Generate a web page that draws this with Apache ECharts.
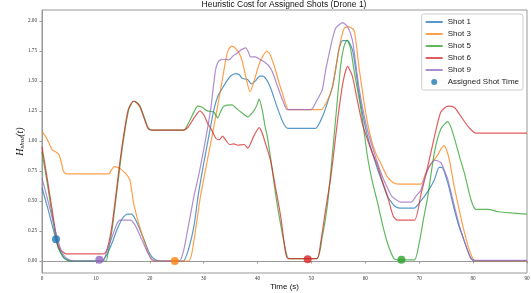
<!DOCTYPE html>
<html>
<head>
<meta charset="utf-8">
<script src="https://cdn.jsdelivr.net/npm/echarts@6.0.0/dist/echarts.min.js"></script>
<style>
  html, body { margin: 0; padding: 0; background: #fff; }
  #chart { width: 531px; height: 293px; }
</style>
</head>
<body>
<div id="chart"></div>
<script>
// curves, [time (s), cost]
const shot1 = [[0,0.61],[1,0.45],[2,0.28],[2.6,0.18],[3,0.12],[4,0.03],[5,0.005],[6,0],[11,0],[12,0.05],[13,0.15],[14,0.27],[15,0.36],[15.8,0.39],[16.6,0.39],[17.3,0.35],[18,0.28],[19,0.17],[20,0.06],[21,0.01],[22,0],[26.2,0],[27.2,0.1],[28.2,0.29],[29,0.55],[30,0.81],[31,1.05],[31.9,1.26],[32.7,1.38],[33.5,1.44],[34.3,1.5],[35,1.54],[35.9,1.56],[36.6,1.55],[37.2,1.52],[38.2,1.51],[38.8,1.475],[39.6,1.5],[40.4,1.54],[41,1.54],[41.8,1.5],[42.6,1.42],[43.4,1.31],[44.3,1.2],[45,1.13],[45.6,1.105],[50.8,1.105],[51.5,1.15],[52.3,1.23],[53.2,1.35],[53.9,1.45],[54.5,1.6],[55.1,1.76],[55.8,1.835],[56.7,1.835],[57.6,1.76],[58.2,1.6],[58.8,1.4],[59.6,1.2],[60.4,1.04],[61.3,0.9],[62.3,0.76],[63.2,0.65],[64.1,0.54],[65,0.48],[65.7,0.45],[66.5,0.44],[69.1,0.44],[70.3,0.5],[71.6,0.58],[72.8,0.675],[73.7,0.78],[74.2,0.78],[75.3,0.65],[76.5,0.43],[77.3,0.3],[78.1,0.2],[79.3,0.05],[80.2,0],[90,0]]
const shot3 = [[0,1.08],[0.9,1.02],[1.9,0.925],[2.5,0.91],[3.1,0.89],[3.6,0.82],[4,0.745],[4.6,0.725],[12.4,0.725],[12.9,0.76],[13.4,0.785],[14,0.78],[14.6,0.765],[15.5,0.73],[16.3,0.675],[17,0.48],[17.6,0.37],[18.3,0.26],[19.5,0.09],[20.6,0],[27.2,0],[28.2,0.175],[29.4,0.535],[30.3,0.75],[31.3,0.98],[32.1,1.17],[32.8,1.34],[33.5,1.52],[34.1,1.675],[34.6,1.76],[35.2,1.79],[35.7,1.78],[36.3,1.75],[36.9,1.7],[37.4,1.62],[37.8,1.535],[38.6,1.41],[39.1,1.46],[39.6,1.535],[40.3,1.64],[40.9,1.7],[41.7,1.745],[42.2,1.73],[42.7,1.675],[43.4,1.58],[44,1.48],[44.6,1.4],[45.2,1.31],[45.8,1.26],[51.8,1.26],[53,1.34],[53.9,1.45],[54.5,1.6],[55.1,1.76],[55.6,1.87],[56.1,1.94],[57,1.95],[57.9,1.92],[58.4,1.78],[58.8,1.62],[59.8,1.31],[60.5,1.13],[61.3,0.98],[62.1,0.88],[62.9,0.81],[64.1,0.7],[65.3,0.65],[66.5,0.64],[70.3,0.64],[71.1,0.72],[71.9,0.79],[72.7,0.84],[73.4,0.88],[74,0.93],[74.6,0.96],[75.1,0.92],[75.6,0.84],[76.5,0.62],[77.3,0.45],[78.1,0.29],[79.3,0.09],[80.4,0],[90,0]]
const shot5 = [[0,0.91],[1,0.64],[2,0.35],[2.5,0.21],[3,0.11],[4,0.03],[5,0],[11.8,0],[12.3,0.08],[13.1,0.29],[14.6,0.84],[15.4,1.09],[16.1,1.26],[17,1.33],[17.6,1.32],[18.2,1.29],[19.1,1.18],[19.7,1.11],[20.4,1.09],[26.3,1.09],[27.2,1.15],[28.3,1.25],[28.9,1.29],[29.7,1.28],[30.7,1.25],[31.9,1.24],[32.6,1.19],[33.2,1.25],[33.8,1.29],[35.3,1.3],[36.1,1.27],[36.9,1.24],[38.2,1.2],[39.3,1.25],[39.9,1.3],[40.3,1.35],[40.9,1.25],[41.4,1.12],[41.8,1.04],[42.6,0.8],[43.4,0.54],[44.3,0.3],[45.2,0.09],[45.8,0.02],[51,0.02],[52,0.2],[53,0.48],[54.2,1.04],[55.4,1.62],[56,1.78],[56.6,1.84],[57.2,1.78],[57.9,1.59],[59.2,1.26],[60.4,0.87],[61.3,0.66],[62.3,0.48],[63.2,0.3],[64.1,0.15],[65.3,0.02],[66,0.01],[69.1,0.01],[70,0.15],[70.8,0.35],[71.6,0.54],[72.8,0.9],[74,1.1],[75.3,1.16],[76,1.1],[76.8,0.98],[77.6,0.85],[78.4,0.73],[79.6,0.51],[80.5,0.43],[82.7,0.43],[84.8,0.41],[87.2,0.4],[90,0.39]]
const shot6 = [[0,0.95],[1,0.68],[2,0.39],[2.8,0.17],[3.3,0.1],[4,0.07],[4.5,0.06],[11.5,0.06],[12.1,0.1],[13,0.3],[14.5,0.84],[15.3,1.09],[16,1.26],[16.9,1.33],[17.5,1.32],[18.2,1.28],[19.1,1.17],[19.7,1.1],[20.4,1.09],[26.3,1.09],[27.2,1.12],[28.2,1.19],[29.3,1.25],[30,1.22],[30.7,1.15],[31.5,1.09],[32.3,1.02],[32.9,1.01],[33.5,1.04],[34.2,1],[34.8,0.97],[35.6,0.975],[36.3,0.965],[37.5,0.97],[38.2,0.94],[39.3,1.04],[40.3,1.11],[40.9,1.06],[41.6,0.96],[42.4,0.84],[43.3,0.62],[44.3,0.37],[45.2,0.07],[45.7,0.02],[51,0.02],[51.7,0.15],[52.6,0.42],[53.6,0.7],[54.4,1],[55.1,1.26],[55.9,1.5],[56.7,1.62],[57.6,1.54],[58.5,1.34],[59.4,1.15],[60.4,1.01],[61.3,0.9],[62.3,0.79],[63.2,0.66],[64.1,0.54],[65.2,0.37],[66,0.34],[69.1,0.34],[70.3,0.55],[71.6,0.79],[72.8,1.03],[74,1.24],[75.3,1.29],[76.5,1.28],[77.2,1.24],[77.8,1.2],[78.9,1.13],[79.9,1.08],[80.5,1.065],[90,1.065]]
const shot9 = [[0,0.69],[1,0.52],[2,0.34],[3,0.16],[4,0.05],[5,0.01],[6,0],[11.3,0],[12,0.08],[13,0.2],[14,0.32],[14.5,0.34],[16.5,0.34],[17.5,0.28],[18.5,0.18],[19.5,0.08],[20.5,0.01],[21.5,0],[25.5,0],[26.3,0.09],[27.2,0.3],[28.2,0.54],[29.1,0.72],[30,0.925],[30.7,1.1],[31.3,1.26],[31.8,1.45],[32.2,1.59],[32.6,1.65],[33.1,1.675],[34,1.68],[34.7,1.675],[35.5,1.71],[36.2,1.73],[37,1.76],[37.8,1.775],[38.3,1.74],[38.7,1.7],[39.6,1.7],[40.4,1.68],[41.2,1.66],[42,1.63],[42.7,1.58],[43.5,1.48],[44.3,1.38],[45,1.3],[45.5,1.26],[49.9,1.26],[50.9,1.33],[52,1.425],[52.6,1.58],[53.3,1.73],[53.9,1.85],[54.5,1.94],[55.2,1.97],[55.8,1.985],[56.7,1.95],[57.6,1.84],[58.2,1.65],[58.8,1.45],[59.6,1.25],[60.4,1.09],[61.3,0.95],[62.3,0.81],[63.2,0.7],[64.1,0.61],[64.9,0.54],[65.7,0.51],[66.5,0.49],[68.5,0.49],[69.4,0.54],[70.3,0.59],[71.1,0.7],[71.9,0.79],[72.9,0.84],[74,0.82],[74.6,0.76],[75.3,0.68],[76.5,0.46],[77.3,0.32],[78.1,0.2],[79.6,0.02],[80.5,0.005],[90,0.005]]

// assigned shot times (dots)
const assignedShots = ['Shot 1', 'Shot 9', 'Shot 3', 'Shot 6', 'Shot 5']
const assignedTimes = [2.6, 10.65, 24.65, 49.3, 66.7]
const assignedValues = [0.18, 0.01, 0.0, 0.015, 0.01]

const yTicks = [0, 0.25, 0.5, 0.75, 1.0, 1.25, 1.5, 1.75, 2.0]

const colors = {
  'Shot 1': '#1f77b4',
  'Shot 3': '#ff7f0e',
  'Shot 5': '#2ca02c',
  'Shot 6': '#d62728',
  'Shot 9': '#9467bd'
}

const chart = echarts.init(document.getElementById('chart'))

const lines = [['Shot 1', shot1], ['Shot 3', shot3], ['Shot 5', shot5], ['Shot 6', shot6], ['Shot 9', shot9]]
const series = lines.map(([name, data]) => {
  return {
    name: name,
    type: 'line',
    data: data,
    symbol: 'none',
    smooth: 0.2,
    color: colors[name],
    lineStyle: { width: 1.2, opacity: 0.75 }
  }
})
series.push({
  name: 'Assigned Shot Time',
  type: 'scatter',
  symbolSize: 8,
  z: 5,
  color: '#1f77b4',
  data: assignedTimes.map((t, i) => {
    return { value: [t, assignedValues[i]], itemStyle: { color: colors[assignedShots[i]] } }
  })
})

// legend: plain lines for the shots (hide the symbol ECharts adds), dot for the times
const legendData = lines.map(([name]) => {
  return { name: name, itemStyle: { opacity: 0 } }
})
legendData.push({ name: 'Assigned Shot Time', icon: 'circle' })

const axisGray = '#999'
const option = {
  animation: false,
  title: {
    text: 'Heuristic Cost for Assigned Shots (Drone 1)',
    left: 284,
    textAlign: 'center',
    top: 0,
    padding: 0,
    textStyle: { fontFamily: 'Liberation Sans', fontSize: 8.5, fontWeight: 'normal', color: '#111' }
  },
  grid: {
    left: 42,
    right: 4,
    top: 10,
    bottom: 20,
    outerBoundsMode: 'none',
    show: true,
    borderColor: axisGray,
    borderWidth: 1
  },
  legend: {
    right: 8,
    top: 14,
    orient: 'vertical',
    itemWidth: 17,
    itemHeight: 6,
    itemGap: 4,
    padding: [4, 4, 4, 3],
    borderColor: '#ccc',
    borderWidth: 1,
    borderRadius: 2,
    backgroundColor: 'rgba(255,255,255,0.85)',
    textStyle: { fontFamily: 'Liberation Sans', fontSize: 8, color: '#222' },
    data: legendData
  },
  xAxis: {
    type: 'value',
    min: 0,
    max: 90,
    interval: 10,
    name: 'Time (s)',
    nameLocation: 'middle',
    nameGap: 10,
    nameMoveOverlap: false,
    nameTextStyle: { fontFamily: 'Liberation Sans', fontSize: 8, color: '#111' },
    axisLine: { lineStyle: { color: axisGray } },
    axisTick: { length: 2.5, lineStyle: { color: axisGray } },
    axisLabel: { fontFamily: 'Liberation Serif', fontSize: 5.2, color: '#333', margin: 3 },
    splitLine: { show: false }
  },
  yAxis: {
    type: 'value',
    min: -0.1,
    max: 2.09,
    name: '{h|H}{s|shot}{h|(t)}',
    nameLocation: 'middle',
    nameGap: 16,
    nameRotate: 90,
    nameMoveOverlap: false,
    nameTextStyle: {
      rich: {
        h: { fontFamily: 'Liberation Serif', fontStyle: 'italic', fontSize: 10, color: '#111' },
        s: { fontFamily: 'Liberation Serif', fontStyle: 'italic', fontSize: 7, color: '#111', padding: [5, 0, 0, 0] }
      }
    },
    axisLine: { show: true, lineStyle: { color: axisGray } },
    axisTick: { show: true, length: 2.5, customValues: yTicks, lineStyle: { color: axisGray } },
    axisLabel: {
      fontFamily: 'Liberation Serif',
      fontSize: 5.2,
      color: '#333',
      margin: 5,
      customValues: yTicks,
      formatter: (v) => v.toFixed(2)
    },
    splitLine: { show: false }
  },
  series: series
}
chart.setOption(option)
</script>
</body>
</html>
